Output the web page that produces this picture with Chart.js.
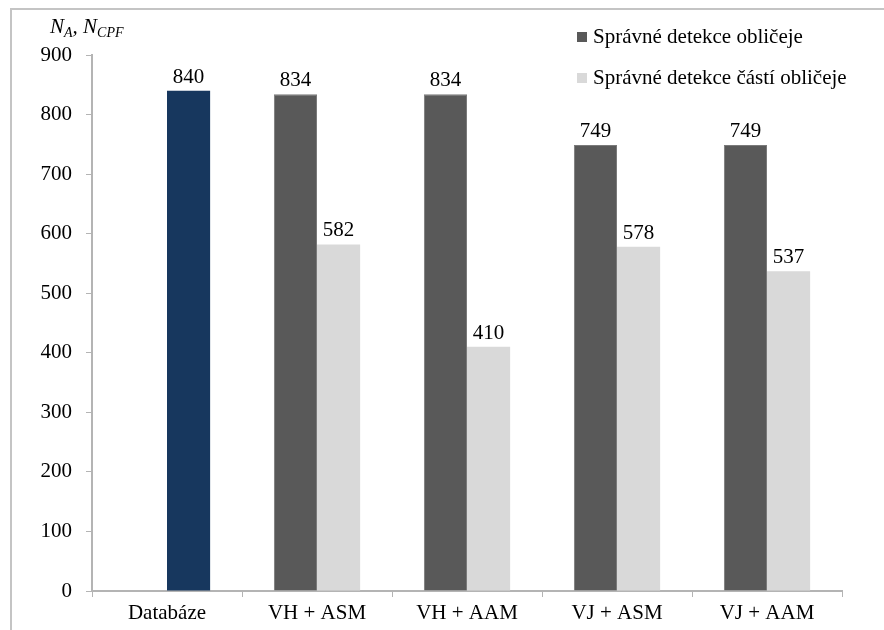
<!DOCTYPE html>
<html lang="cs">
<head>
    <meta charset="UTF-8">
    <script src="https://cdn.jsdelivr.net/npm/chart.js"></script>
    <title>Detekce obličeje</title>
    <style>
        html, body{margin: 0; padding: 0; background: #fff;}
        #wrap{position: relative; width: 884px; height: 630px;}
        #frame{position: absolute; left: 10px; top: 8px; width: 874px; height: 622px;
               border-top: 2px solid #c4c4c4; border-left: 2px solid #c4c4c4;}
        canvas{position: absolute; left: 0; top: 0;}
    </style>
</head>
<body>
<div id="wrap">
    <div id="frame"></div>
    <canvas id="myChart" width="884" height="630"></canvas>
</div>
<script>
    const categories = ['Databáze', 'VH + ASM', 'VH + AAM', 'VJ + ASM', 'VJ + AAM'];
    // správné detekce obličeje (Databáze nemá hodnotu)
    const faceDetections = [null, 834, 834, 749, 749];
    // první položka je celkový počet v databázi, kreslí se tmavě modře
    const partDetections = [840, 582, 410, 578, 537];
    const seriesNames = ['Správné detekce obličeje', 'Správné detekce částí obličeje'];
    const yTicks = [0, 100, 200, 300, 400, 500, 600, 700, 800, 900];

    const NAVY = '#17375e';
    const DARK = '#595959';
    const LIGHT = '#d9d9d9';
    const AXIS = '#b4b4b4';
    const SERIF = 'Liberation Serif, DejaVu Serif, serif';

    // hodnoty nad sloupci
    const valueLabels = {
        id: 'valueLabels',
        afterDatasetsDraw(chart){
            const ctx = chart.ctx;
            ctx.save();
            ctx.font = '21px ' + SERIF;
            ctx.fillStyle = '#000';
            ctx.textAlign = 'center';
            ctx.textBaseline = 'alphabetic';
            chart.data.datasets.forEach((ds, i) => {
                chart.getDatasetMeta(i).data.forEach((bar, j) => {
                    if (ds.data[j] == null) return;
                    ctx.fillText(ds.data[j], bar.x, bar.y - 8);
                });
            });
            ctx.restore();
        }
    };

    // popisek osy y s indexy a legenda vpravo nahoře
    const extras = {
        id: 'extras',
        afterDraw(chart){
            const ctx = chart.ctx;
            ctx.save();
            ctx.fillStyle = '#000';
            ctx.textBaseline = 'alphabetic';
            let x = 50;
            const parts = [['N', false], ['A', true], [', N', false], ['CPF', true]];
            parts.forEach(p => {
                ctx.font = 'italic ' + (p[1] ? 14 : 21) + 'px ' + SERIF;
                ctx.fillText(p[0], x, p[1] ? 37 : 33);
                x += ctx.measureText(p[0]).width;
            });

            ctx.font = '21px ' + SERIF;
            const colors = [DARK, LIGHT];
            const rows = [43, 84];
            seriesNames.forEach((name, i) => {
                ctx.fillStyle = colors[i];
                ctx.fillRect(577, rows[i] - 11, 10, 10);
                ctx.fillStyle = '#000';
                ctx.fillText(name, 593, rows[i]);
            });
            ctx.restore();
        }
    };

    new Chart(document.getElementById('myChart'), {
        type: 'bar',
        data: {
            labels: categories,
            datasets: [{
                label: seriesNames[0],
                data: faceDetections,
                backgroundColor: DARK,
                borderColor: '#7a7a7a',
                borderWidth: 1
            }, {
                label: seriesNames[1],
                data: partDetections,
                backgroundColor: partDetections.map((v, i) => i === 0 ? NAVY : LIGHT),
                borderWidth: 0
            }]
        },
        options: {
            responsive: false,
            animation: false,
            events: [],
            layout: {padding: {left: 0, top: 55, right: 42, bottom: 0}},
            datasets: {bar: {barPercentage: 1, categoryPercentage: 0.575}},
            plugins: {legend: {display: false}, tooltip: {enabled: false}},
            scales: {
                x: {
                    grid: {drawOnChartArea: false, color: AXIS, tickLength: 6, offset: true},
                    border: {color: AXIS, width: 2},
                    ticks: {color: '#000', font: {family: SERIF, size: 21}, padding: 4, maxRotation: 0},
                    afterFit(scale){ scale.height = 39; }
                },
                y: {
                    min: 0,
                    max: 900,
                    afterBuildTicks(scale){ scale.ticks = yTicks.map(v => ({value: v})); },
                    grid: {drawOnChartArea: false, color: AXIS, tickLength: 6},
                    border: {color: AXIS, width: 2},
                    ticks: {color: '#000', font: {family: SERIF, size: 21}, padding: 14},
                    afterFit(scale){ scale.width = 92; }
                }
            }
        },
        plugins: [valueLabels, extras]
    });
</script>
</body>
</html>
